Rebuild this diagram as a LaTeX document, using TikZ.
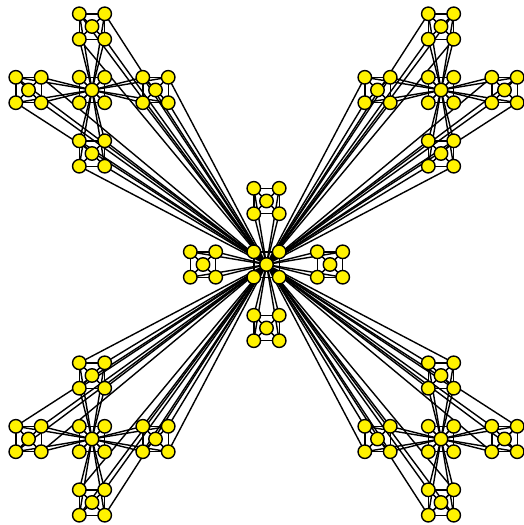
\documentclass[tikz,border=0pt]{standalone}
\usetikzlibrary{backgrounds}
\begin{document}
\begin{tikzpicture}[x=1pt,y=-1pt,
  vtx/.style={circle,draw=black,fill=yellow,line width=1.4pt,minimum size=13.5pt,inner sep=0pt},
  edge/.style={draw=black,line width=1.4pt}]
\useasboundingbox (0,0) rectangle (524,525);
\def\dA{174.5}\def\dB{63.5}\def\dC{12.7}
\foreach \a/\ax/\ay in {0/0/0,1/-1/-1,2/1/-1,3/-1/1,4/1/1}{
 \foreach \b/\bx/\by in {0/0/0,1/0/-1,2/-1/0,3/1/0,4/0/1}{
  \foreach \c/\cx/\cy in {0/0/0,1/-1/-1,2/1/-1,3/-1/1,4/1/1}{
   \node[vtx] (n-\a-\b-\c) at ({266.5+\ax*\dA+\bx*\dB+\cx*\dC},{264.5+\ay*\dA+\by*\dB+\cy*\dC}) {};
  }}}
\begin{pgfonlayer}{background}
% K5 modules
\foreach \a in {0,...,4}{
 \foreach \b in {0,...,4}{
  \foreach \i in {0,...,3}{
   \pgfmathtruncatemacro\s{\i+1}
   \foreach \j in {\s,...,4}{
    \draw[edge] (n-\a-\b-\i.center) -- (n-\a-\b-\j.center);
   }}}}
% level 2 links
\foreach \a in {0,...,4}{
 \foreach \b in {1,...,4}{
  \foreach \c in {1,...,4}{
   \draw[edge] (n-\a-\b-\c.center) -- (n-\a-0-0.center);
  }}}
% level 3 links
\foreach \a in {1,...,4}{
 \foreach \b in {1,...,4}{
  \foreach \c in {1,...,4}{
   \draw[edge] (n-\a-\b-\c.center) -- (n-0-0-0.center);
  }}}
\end{pgfonlayer}
\end{tikzpicture}
\end{document}
